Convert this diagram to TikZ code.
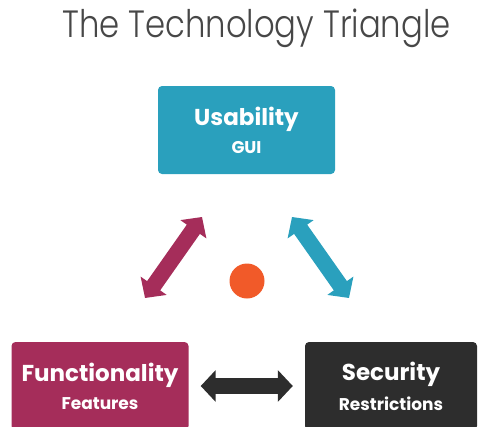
\documentclass[tikz,border=0pt]{standalone}
\usepackage{fontspec}
\setmainfont{Poppins}
\newfontfamily\titlefont{Poppins}[UprightFont=* Light]
\usetikzlibrary{positioning}
\usetikzlibrary{arrows.meta}
\definecolor{teal1}{HTML}{2AA0BD}
\definecolor{berry}{HTML}{A52D5A}
\definecolor{coal}{HTML}{2D2D2D}
\definecolor{tang}{HTML}{F15A29}
\definecolor{inkgrey}{HTML}{474747}
\tikzset{
    corner/.style = {rectangle, rounded corners=4pt, minimum width=177pt, minimum height=88pt, text=white, align=center, font=\bfseries},
    usab/.style = {corner, fill=teal1},
    func/.style = {corner, fill=berry},
    secu/.style = {corner, fill=coal, minimum width=172pt},
    twoway/.style = {line width=16pt, {Triangle[length=15pt,width=31pt]}-{Triangle[length=15pt,width=31pt]}},
}
\newcommand{\boxlines}[2]{{\fontsize{23}{23}\selectfont #1}\\[9pt]{\fontsize{17}{17}\selectfont #2}}

\begin{document}
\begin{tikzpicture}[x=1pt,y=-1pt]
\useasboundingbox (0,0) rectangle (478,426);
\node[text=inkgrey, anchor=base, inner sep=0pt, font=\titlefont\fontsize{38}{38}\selectfont] at (256.5, 37) (title) {\scalebox{0.85}[1]{The Technology Triangle}};
\node[usab] at (246.5, 130) (u) {\boxlines{Usability}{GUI}};
\node[func] at (100, 386) (f) {\boxlines{Functionality}{Features}};
\node[secu] at (391, 386) (s) {\boxlines{Security}{Restrictions}};
\node[circle, fill=tang, minimum size=35pt, inner sep=0pt] at (247, 281) (dot) {};
%
\coordinate (ul) at (202, 217);
\coordinate (fl) at (145, 298);
\coordinate (ur) at (292, 217);
\coordinate (sr) at (349, 298);
\draw[twoway, berry] (ul) -- (fl);
\draw[twoway, teal1] (ur) -- (sr);
\draw[twoway, coal, shorten <=12pt, shorten >=12pt] (f.east) -- (s.west);

\end{tikzpicture}
\end{document}
